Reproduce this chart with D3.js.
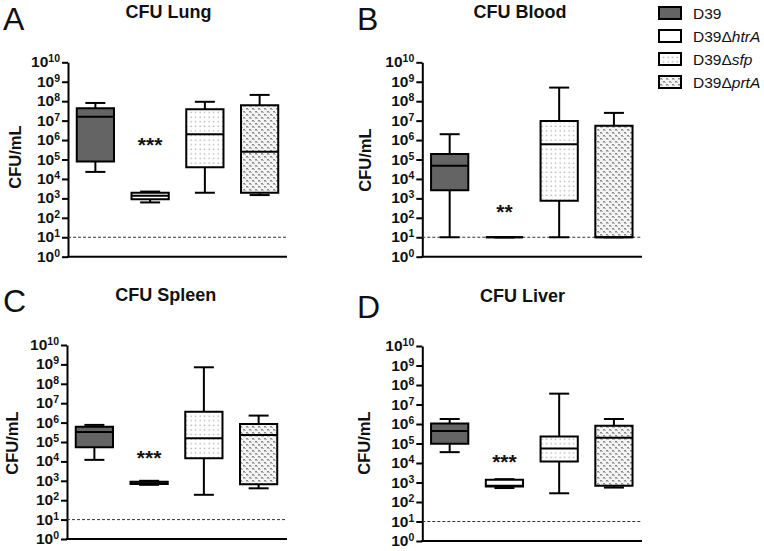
<!DOCTYPE html>
<html><head><meta charset="utf-8">
<script src="https://cdn.jsdelivr.net/npm/d3@7/dist/d3.min.js"></script>
<style>body{margin:0;background:#fff}svg{display:block}text{font-family:"Liberation Sans",Arial,sans-serif}</style>
</head><body>
<svg id="chart" width="764" height="551"></svg>
<script>
// ---------------- DATA ----------------
const groups = ["D39", "D39ΔhtrA", "D39Δsfp", "D39ΔprtA"];
const legendPlain = ["D39", "D39Δ", "D39Δ", "D39Δ"];
const legendItalic = ["", "htrA", "sfp", "prtA"];
const tickExponents = [0, 1, 2, 3, 4, 5, 6, 7, 8, 9, 10];
const detectionLimit = 10;
// each group: [whisker low, Q1, median, Q3, whisker high] in CFU/mL
const lungStats = [
  [2.3e4, 7.8e4, 1.6e7, 4.3e7, 8.1e7],
  [620, 910, 1380, 1950, 2240],
  [1950, 4.0e4, 2.0e6, 3.8e7, 9.3e7],
  [1480, 1950, 2.5e5, 6.2e7, 2.1e8]
];
const bloodStats = [
  [10, 2600, 4.8e4, 1.9e5, 2.0e6],
  [10, 10, 10, 10, 10],
  [10, 760, 6.0e5, 9.5e6, 5.0e8],
  [10, 10, 10, 5.5e6, 2.5e7]
];
const spleenStats = [
  [1.2e4, 5.4e4, 3.3e5, 6.2e5, 7.6e5],
  [620, 680, 750, 900, 1000],
  [190, 1.45e4, 1.55e5, 3.6e6, 7.1e8],
  [410, 660, 2.3e5, 8.5e5, 2.3e6]
];
const liverStats = [
  [3.6e4, 9.8e4, 4.4e5, 1.05e6, 1.8e6],
  [520, 620, 680, 1380, 1480],
  [280, 1.2e4, 5.6e4, 2.3e5, 3.6e7],
  [550, 680, 2.0e5, 8.1e5, 1.8e6]
];
const panelTitles = ["CFU Lung", "CFU Blood", "CFU Spleen", "CFU Liver"];
const panelLetters = ["A", "B", "C", "D"];
const starLabels = ["***", "**", "***", "***"];
const starValues = [1e6, 370, 2.7e4, 2.1e4];   // y position (CFU/mL) of the significance stars
const starGroup = "D39ΔhtrA";

// ---------------- LAYOUT ----------------
const svg = d3.select("#chart");
const defs = svg.append("defs");

// pattern: sparse dots (sfp)
const pSfp = defs.append("pattern").attr("id", "pSfp").attr("patternUnits", "userSpaceOnUse")
  .attr("width", 4.5).attr("height", 4.6);
pSfp.append("rect").attr("width", 4.5).attr("height", 4.6).attr("fill", "#fff");
pSfp.append("rect").attr("x", 1.5).attr("y", 1.5).attr("width", 1.3).attr("height", 1.3).attr("fill", "#a8a8a8");
// pattern: dense marks (prtA)
const pPrt = defs.append("pattern").attr("id", "pPrt").attr("patternUnits", "userSpaceOnUse")
  .attr("width", 6).attr("height", 6);
pPrt.append("rect").attr("width", 6).attr("height", 6).attr("fill", "#f4f4f4");
[[0,0,2,1],[0.5,1,1,1],[3,3,2,1],[3.5,4,1,1]].forEach(r =>
  pPrt.append("rect").attr("x", r[0]).attr("y", r[1]).attr("width", r[2]).attr("height", r[3]).attr("fill", "#8a8a8a"));
[[2,1,1,1],[5,4,1,1]].forEach(r =>
  pPrt.append("rect").attr("x", r[0]).attr("y", r[1]).attr("width", r[2]).attr("height", r[3]).attr("fill", "#b5b5b5"));

const fills = ["#646464", "#ffffff", "url(#pSfp)", "url(#pPrt)"];

const panels = [
  {stats: lungStats,   axisX: 68,    xEnd: 287, yTop: 62.3, yBot: 256.7, letterX: 3,   letterY: 30,  titleX: 168.5, titleY: 18.3, labelX: 20.5,  labelY: 157},
  {stats: bloodStats,  axisX: 422.3, xEnd: 642, yTop: 62.3, yBot: 256.7, letterX: 357, letterY: 30,  titleX: 520,   titleY: 18.3, labelX: 370.5, labelY: 160},
  {stats: spleenStats, axisX: 67,    xEnd: 287, yTop: 345,  yBot: 539,   letterX: 3,   letterY: 312, titleX: 165.8, titleY: 300.7, labelX: 17.5, labelY: 443},
  {stats: liverStats,  axisX: 422.3, xEnd: 642, yTop: 346,  yBot: 541,   letterX: 357, letterY: 318, titleX: 522.5, titleY: 302, labelX: 369.5,  labelY: 443}
];

panels.forEach((p, i) => {
  const g = svg.append("g");
  const y = d3.scaleLog().domain([1, 1e10]).range([p.yBot, p.yTop]);
  const x = d3.scaleBand().domain(groups).range([p.axisX, p.axisX + 219]).paddingInner(0.32).paddingOuter(0.16);
  const bw = x.bandwidth();
  const capW = 20;

  g.append("text").attr("x", p.letterX).attr("y", p.letterY).attr("font-size", 32).attr("font-weight", 300)
    .attr("fill", "#111").text(panelLetters[i]);
  g.append("text").attr("x", p.titleX).attr("y", p.titleY).attr("text-anchor", "middle")
    .attr("font-size", 18).attr("font-weight", "bold").attr("fill", "#111").text(panelTitles[i]);
  g.append("text").attr("transform", `translate(${p.labelX},${p.labelY}) rotate(-90)`)
    .attr("text-anchor", "middle").attr("font-size", 16.5).attr("font-weight", "bold").attr("fill", "#111").text("CFU/mL");

  const axis = d3.axisLeft(y).tickValues(tickExponents.map(e => Math.pow(10, e)))
    .tickSize(6).tickSizeOuter(0).tickFormat(() => "");
  const ag = g.append("g").attr("transform", `translate(${p.axisX},0)`).call(axis);
  ag.select(".domain").attr("stroke", "#000").attr("stroke-width", 2);
  ag.selectAll(".tick line").attr("stroke", "#000").attr("stroke-width", 2);
  tickExponents.forEach(e => {
    const t = g.append("text").attr("x", p.axisX - 8).attr("y", y(Math.pow(10, e)) + 5)
      .attr("text-anchor", "end").attr("font-weight", "bold").attr("fill", "#111");
    t.append("tspan").attr("font-size", 15.5).text("10");
    t.append("tspan").attr("font-size", 10.5).attr("dy", -5).text(String(e));
  });
  g.append("line").attr("x1", p.axisX - 1).attr("x2", p.xEnd).attr("y1", y(1)).attr("y2", y(1))
    .attr("stroke", "#000").attr("stroke-width", 2);

  g.append("line").attr("x1", p.axisX).attr("x2", p.xEnd).attr("y1", y(detectionLimit)).attr("y2", y(detectionLimit))
    .attr("stroke", "#333").attr("stroke-width", 1).attr("stroke-dasharray", "3,2");

  groups.forEach((grp, j) => {
    const s = p.stats[j];
    const x0 = x(grp), xc = x0 + bw / 2;
    const bg = g.append("g").attr("stroke", "#000").attr("stroke-width", 2).attr("fill", "none");
    bg.append("line").attr("x1", xc).attr("x2", xc).attr("y1", y(s[0])).attr("y2", y(s[1]));
    bg.append("line").attr("x1", xc).attr("x2", xc).attr("y1", y(s[3])).attr("y2", y(s[4]));
    bg.append("line").attr("x1", xc - capW / 2).attr("x2", xc + capW / 2).attr("y1", y(s[0])).attr("y2", y(s[0]));
    bg.append("line").attr("x1", xc - capW / 2).attr("x2", xc + capW / 2).attr("y1", y(s[4])).attr("y2", y(s[4]));
    bg.append("path").attr("d", `M${x0},${y(s[3])}H${x0 + bw}V${y(s[1])}H${x0}Z`).attr("fill", fills[j]);
    bg.append("line").attr("x1", x0).attr("x2", x0 + bw).attr("y1", y(s[2])).attr("y2", y(s[2]));
  });

  g.append("text").attr("x", x(starGroup) + bw / 2).attr("y", y(starValues[i]) + 12)
    .attr("text-anchor", "middle").attr("font-size", 21).attr("font-weight", "bold").attr("fill", "#111")
    .text(starLabels[i]);
});

const lg = svg.append("g");
groups.forEach((grp, j) => {
  const top = 7 + j * 23;
  lg.append("rect").attr("x", 659).attr("y", top).attr("width", 22).attr("height", 12)
    .attr("fill", fills[j]).attr("stroke", "#000").attr("stroke-width", 2);
  const t = lg.append("text").attr("x", 693).attr("y", top + 12).attr("font-size", 15.5).attr("fill", "#111");
  t.append("tspan").text(legendPlain[j]);
  if (legendItalic[j]) t.append("tspan").attr("font-style", "italic").text(legendItalic[j]);
});
</script>
</body></html>
